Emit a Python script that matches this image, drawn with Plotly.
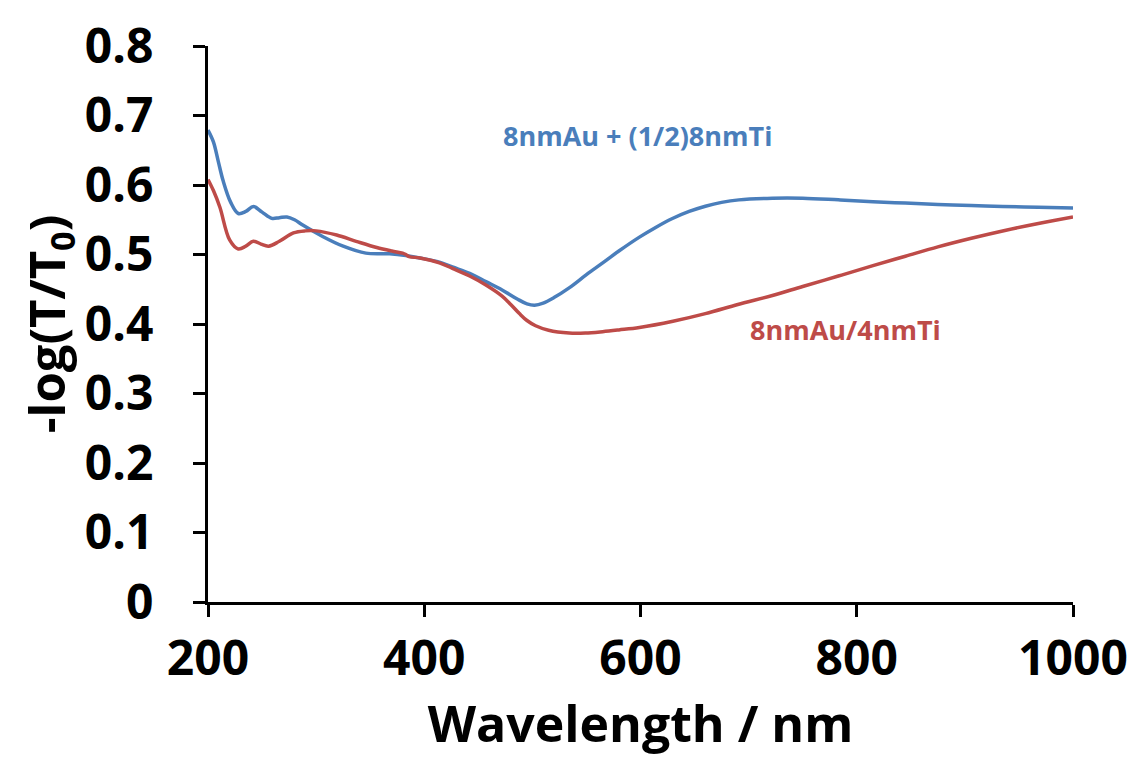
import plotly.graph_objects as go

# Wavelength (nm) and -log(T/T0) values
blue_x = [200, 205, 209.5, 214, 221, 228, 235, 242, 250, 259, 266, 273, 280, 288, 306, 325, 346, 368, 383,
          396, 414, 426, 442, 457, 472, 486, 495, 502, 510, 520, 534, 550, 566, 580, 599, 614, 629, 645, 660,
          675, 691, 722, 750, 783, 815, 845, 875, 906, 935, 968, 1000]
blue_y = [0.679, 0.662, 0.634, 0.606, 0.575, 0.559, 0.562, 0.569, 0.561, 0.552, 0.553, 0.554, 0.550, 0.542, 0.526, 0.512, 0.502, 0.501, 0.4985,
          0.495, 0.489, 0.482, 0.473, 0.461, 0.449, 0.436, 0.429, 0.427, 0.430, 0.438, 0.452, 0.471, 0.489, 0.505, 0.525, 0.539, 0.5515, 0.562, 0.5695,
          0.5750, 0.5786, 0.581, 0.581, 0.5786, 0.576, 0.574, 0.572, 0.5706, 0.569, 0.568, 0.567]

red_x = [200, 205, 211, 220, 228, 235, 242, 249, 256, 266, 279, 290, 300, 319, 337, 356, 370, 380, 383, 386,
         396, 414, 426, 442, 457, 472, 480, 488, 495, 503, 515, 534, 549, 565, 580, 599, 630, 660, 690, 722,
         750, 783, 815, 845, 875, 906, 938, 968, 1000]
red_y = [0.608, 0.592, 0.568, 0.521, 0.508, 0.512, 0.519, 0.515, 0.512, 0.519, 0.531, 0.534, 0.534, 0.528, 0.519, 0.510, 0.505, 0.502, 0.500, 0.497,
         0.495, 0.488, 0.480, 0.469, 0.456, 0.440, 0.428, 0.415, 0.405, 0.3975, 0.391, 0.387, 0.387, 0.389, 0.3915, 0.395, 0.404, 0.415, 0.428, 0.441,
         0.454, 0.469, 0.484, 0.4975, 0.511, 0.5234, 0.535, 0.5446, 0.554]

x_ticks = [200, 400, 600, 800, 1000]
y_ticks = [0, 0.1, 0.2, 0.3, 0.4, 0.5, 0.6, 0.7, 0.8]
y_tick_text = ["0", "0.1", "0.2", "0.3", "0.4", "0.5", "0.6", "0.7", "0.8"]

blue_name = "8nmAu + (1/2)8nmTi"
red_name = "8nmAu/4nmTi"
BLUE = "#4A7EBB"
RED = "#BE4B48"
FONT = "Open Sans"

fig = go.Figure()
fig.add_trace(go.Scatter(x=blue_x, y=blue_y, mode="lines", name=blue_name,
                         line=dict(color=BLUE, width=3.5, shape="spline", smoothing=1.0)))
fig.add_trace(go.Scatter(x=red_x, y=red_y, mode="lines", name=red_name,
                         line=dict(color=RED, width=3.5, shape="spline", smoothing=1.0)))

fig.add_annotation(x=597, y=0.671, text=blue_name, showarrow=False,
                   font=dict(family=FONT, size=27, color=BLUE, weight="bold"))
fig.add_annotation(x=790, y=0.3915, text=red_name, showarrow=False,
                   font=dict(family=FONT, size=27, color=RED, weight="bold"))

fig.update_layout(
    width=1140, height=770,
    margin=dict(l=208, r=65, t=36, b=168),
    paper_bgcolor="white", plot_bgcolor="white",
    showlegend=False,
    font=dict(family=FONT, color="black"),
)
fig.update_xaxes(
    range=[200, 1000], tickvals=x_ticks, ticktext=[str(v) for v in x_ticks],
    showgrid=False, zeroline=False, showline=True, linecolor="black", linewidth=3,
    ticks="outside", ticklen=12, tickwidth=3, tickcolor="black",
    tickfont=dict(family=FONT, size=48, color="black", weight="bold"),
    title=dict(text="Wavelength / nm", font=dict(family=FONT, size=50, color="black", weight="bold"), standoff=8),
)
fig.update_yaxes(
    range=[0, 0.8], tickvals=y_ticks, ticktext=y_tick_text,
    showgrid=False, zeroline=False, showline=True, linecolor="black", linewidth=3,
    ticks="outside", ticklen=12, tickwidth=3, tickcolor="black", ticklabelstandoff=30,
    tickfont=dict(family=FONT, size=48, color="black", weight="bold"),
    title=dict(text="-log(T/T<sub>0</sub>)", font=dict(family=FONT, size=49, color="black", weight="bold"), standoff=2),
)

fig.write_html("out.html")
